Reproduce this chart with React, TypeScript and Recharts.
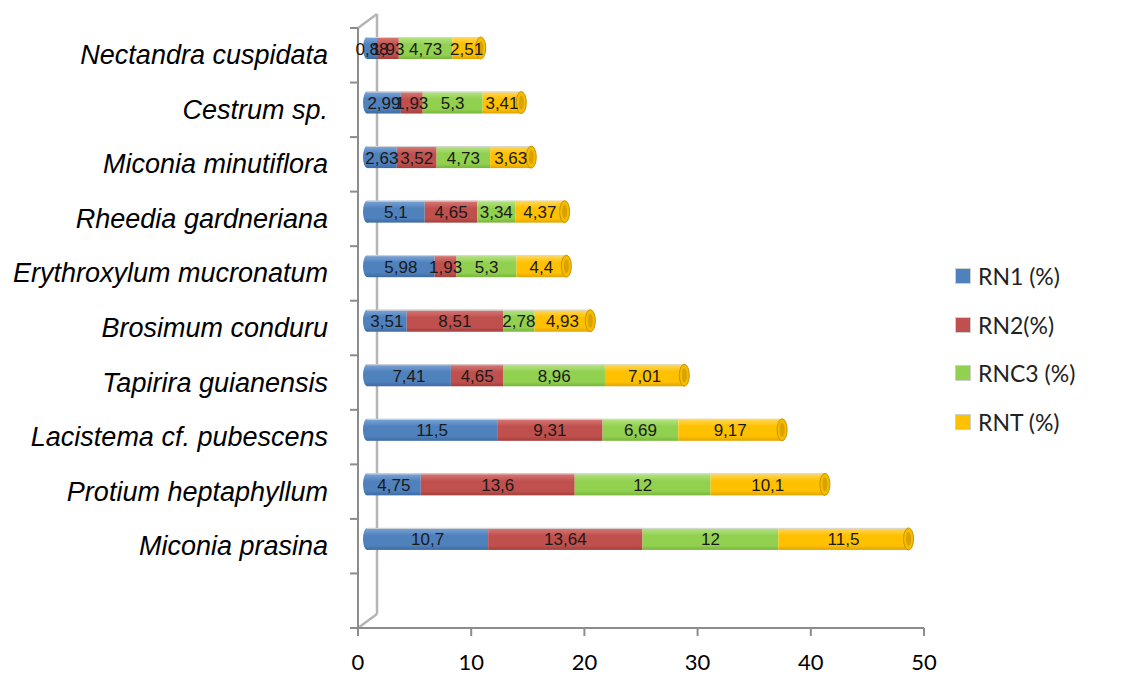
import React from 'react';
import { BarChart, Bar, XAxis, YAxis, LabelList, Customized } from 'recharts';

const species = [
  'Nectandra cuspidata',
  'Cestrum sp.',
  'Miconia minutiflora',
  'Rheedia gardneriana',
  'Erythroxylum mucronatum',
  'Brosimum conduru',
  'Tapirira guianensis',
  'Lacistema cf. pubescens',
  'Protium heptaphyllum',
  'Miconia prasina',
];

const rn1 = [0.88, 2.99, 2.63, 5.1, 5.98, 3.51, 7.41, 11.5, 4.75, 10.7];
const rn2 = [1.93, 1.93, 3.52, 4.65, 1.93, 8.51, 4.65, 9.31, 13.6, 13.64];
const rnc3 = [4.73, 5.3, 4.73, 3.34, 5.3, 2.78, 8.96, 6.69, 12, 12];
const rnt = [2.51, 3.41, 3.63, 4.37, 4.4, 4.93, 7.01, 9.17, 10.1, 11.5];

const xTicks = [0, 10, 20, 30, 40, 50];

const series = [
  { key: 'rn1', name: 'RN1 (%)', color: '#4f81bd', top: '#7ea6d8', bottom: '#3d6aa3' },
  { key: 'rn2', name: 'RN2(%)', color: '#c0504d', top: '#d77b78', bottom: '#a33f3c' },
  { key: 'rnc3', name: 'RNC3 (%)', color: '#92d050', top: '#b6e585', bottom: '#78b63a' },
  { key: 'rnt', name: 'RNT (%)', color: '#ffc000', top: '#ffd95a', bottom: '#e0a500' },
];

// empty slot at the bottom, like the original category axis
const data = [
  ...species.map((name, i) => ({ name, rn1: rn1[i], rn2: rn2[i], rnc3: rnc3[i], rnt: rnt[i] })),
  { name: '' },
];

const W = 1127;
const H = 681;
const LEFT = 358;
const RIGHT = 924;
const TOP = 28;
const BOTTOM = 628;
const DX = 9; // 3d depth shift of the bars
const DY = -7;
const WALL_DX = 19;
const WALL_DY = -14;

const axisGray = '#8c8c8c';

const fmt = (v: number) => String(v).replace('.', ',');

const Wall = () => {
  const n = data.length;
  const step = (BOTTOM - TOP) / n;
  const ticks = Array.from({ length: n + 1 }, (_, i) => TOP + i * step);
  return (
    <g>
      <line x1={LEFT + WALL_DX} y1={TOP + WALL_DY} x2={LEFT + WALL_DX} y2={BOTTOM + WALL_DY} stroke="#b5b5b5" strokeWidth={2.5} />
      <line x1={LEFT} y1={TOP} x2={LEFT + WALL_DX} y2={TOP + WALL_DY} stroke="#b5b5b5" strokeWidth={2.5} />
      <line x1={LEFT} y1={BOTTOM} x2={LEFT + WALL_DX} y2={BOTTOM + WALL_DY} stroke="#b5b5b5" strokeWidth={2.5} />
      <line x1={LEFT} y1={TOP} x2={LEFT} y2={BOTTOM} stroke={axisGray} strokeWidth={2} />
      {ticks.map((t) => (
        <line key={t} x1={LEFT - 8} y1={t} x2={LEFT} y2={t} stroke={axisGray} strokeWidth={2} />
      ))}
    </g>
  );
};

const makeShape = (idx: number) => (props: any) => {
  const { x, y, width, height } = props;
  if (!width || width <= 0) return null;
  const s = series[idx];
  const bx = x + DX;
  const by = y + DY;
  const ry = height / 2;
  return (
    <g>
      {idx === 0 && <ellipse cx={bx} cy={by + ry} rx={4} ry={ry} fill={`url(#g-${s.key})`} />}
      <rect x={bx} y={by} width={width} height={height} fill={`url(#g-${s.key})`} />
      <line x1={bx} y1={by + 0.5} x2={bx + width} y2={by + 0.5} stroke="#d8d8d8" strokeWidth={1} />
      {idx === series.length - 1 && (
        <g>
          <ellipse cx={bx + width} cy={by + ry} rx={5} ry={ry} fill="#f5bb00" stroke="#c99500" strokeWidth={1} />
          <ellipse cx={bx + width} cy={by + ry} rx={2.5} ry={ry - 4} fill="#d9a200" />
        </g>
      )}
    </g>
  );
};

const renderLabel = (props: any) => {
  const { x, y, width, height, value } = props;
  if (value == null) return null;
  return (
    <text
      x={x + DX + width / 2}
      y={y + DY + height / 2 + 1}
      textAnchor="middle"
      dominantBaseline="central"
      fontFamily="'Liberation Sans', Arial, sans-serif"
      fontSize={17}
      fill="#1a1a1a"
    >
      {fmt(value)}
    </text>
  );
};

const CategoryTick = (props: any) => {
  const { x, y, payload } = props;
  if (!payload.value) return null;
  return (
    <text
      x={x}
      y={y}
      textAnchor="end"
      dominantBaseline="central"
      fontFamily="'Liberation Sans', Arial, sans-serif"
      fontStyle="italic"
      fontSize={27}
      fill="#000"
    >
      {payload.value}
    </text>
  );
};

export default function App() {
  return (
    <div style={{ position: 'absolute', left: 0, top: 0, width: W, height: H, background: '#fff' }}>
      <BarChart
        width={W}
        height={H}
        data={data}
        layout="vertical"
        margin={{ top: TOP, right: W - RIGHT, bottom: 8, left: 18 }}
        barSize={22}
      >
        <defs>
          {series.map((s) => (
            <linearGradient key={s.key} id={`g-${s.key}`} x1="0" y1="0" x2="0" y2="1">
              <stop offset="0%" stopColor={s.top} />
              <stop offset="35%" stopColor={s.color} />
              <stop offset="80%" stopColor={s.color} />
              <stop offset="100%" stopColor={s.bottom} />
            </linearGradient>
          ))}
        </defs>
        <XAxis
          type="number"
          domain={[0, 50]}
          ticks={xTicks}
          height={45}
          axisLine={{ stroke: axisGray, strokeWidth: 2 }}
          tickLine={{ stroke: axisGray, strokeWidth: 2 }}
          tickSize={8}
          tickMargin={18}
          tick={{ fontFamily: 'Lato, sans-serif', fontSize: 22, fill: '#000' }}
        />
        <YAxis
          type="category"
          dataKey="name"
          width={LEFT - 18}
          axisLine={false}
          tickLine={false}
          tickSize={0}
          tickMargin={30}
          interval={0}
          tick={<CategoryTick />}
        />
        <Customized component={Wall} />
        {series.map((s, i) => (
          <Bar key={s.key} dataKey={s.key} name={s.name} stackId="a" fill={s.color} shape={makeShape(i)} isAnimationActive={false}>
            <LabelList dataKey={s.key} content={renderLabel} />
          </Bar>
        ))}
      </BarChart>
      <div style={{ position: 'absolute', left: 955, top: 252, fontFamily: 'Lato, sans-serif', fontSize: 23, color: '#222' }}>
        {series.map((s) => (
          <div key={s.key} style={{ display: 'flex', alignItems: 'center', height: 48.5 }}>
            <span style={{ display: 'inline-block', width: 14, height: 14, background: s.color, marginRight: 7, border: '1px solid #cfcfcf' }} />
            <span>{s.name}</span>
          </div>
        ))}
      </div>
    </div>
  );
}
